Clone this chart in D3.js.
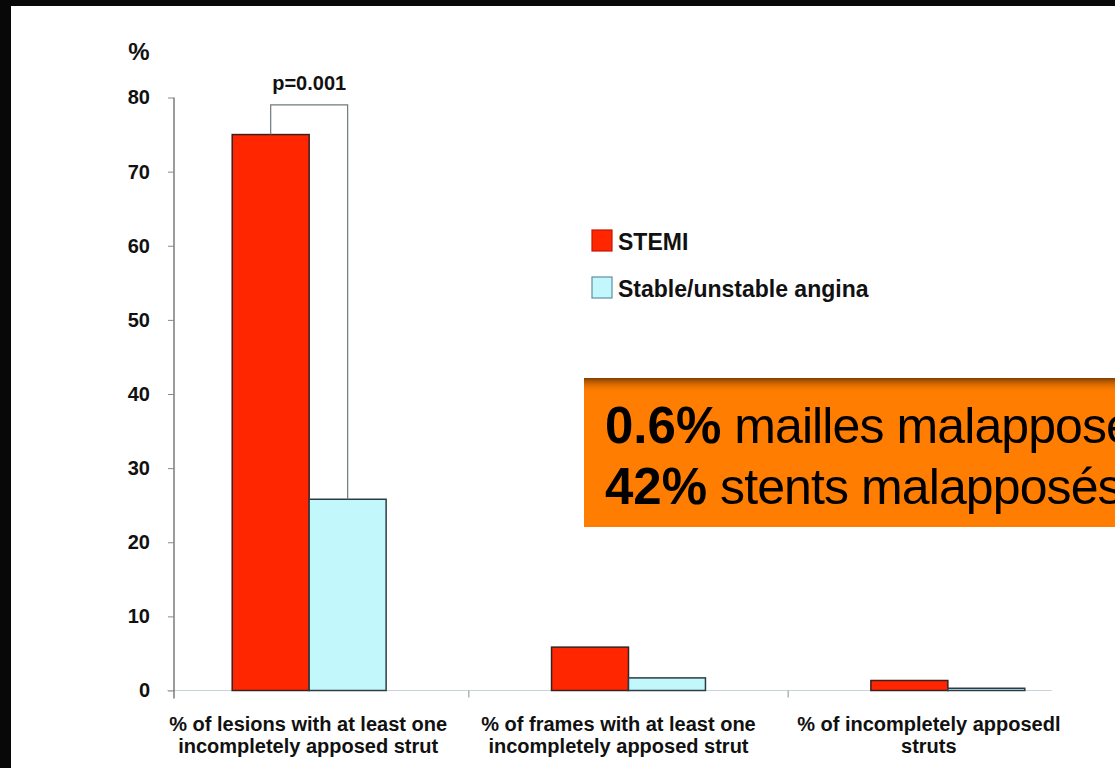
<!DOCTYPE html>
<html>
<head>
<meta charset="utf-8">
<script src="https://cdn.jsdelivr.net/npm/d3@7"></script>
<style>
  body { margin: 0; background: #fff; }
  svg text { font-family: "Liberation Sans", Arial, sans-serif; }
</style>
</head>
<body>
<div id="chart"></div>
<script>
// chart data
var categories = ["lesions", "frames", "struts"];
var categoryLabels = [
  ["% of lesions with at least one", "incompletely apposed strut"],
  ["% of frames with at least one", "incompletely apposed strut"],
  ["% of incompletely apposedl", "struts"]
];
var seriesNames = ["STEMI", "Stable/unstable angina"];
var stemiValues = [75, 5.85, 1.35];
var anginaValues = [25.8, 1.7, 0.3];
var yTickValues = [0, 10, 20, 30, 40, 50, 60, 70, 80];
var pValueText = "p=0.001";
var boxLines = [
  ["0.6%", " mailles malapposées"],
  ["42%", " stents malapposés"]
];

var W = 1115, H = 768;
var colors = { STEMI: "#ff2600", "Stable/unstable angina": "#c2f8fb" };
var strokes = { STEMI: "#3a2020", "Stable/unstable angina": "#2c3c44" };

var svg = d3.select("#chart").append("svg")
  .attr("width", W)
  .attr("height", H);

svg.append("rect").attr("width", W).attr("height", H).attr("fill", "#fff");
// black frame edges of the slide
svg.append("rect").attr("width", W).attr("height", 6).attr("fill", "#080808");
svg.append("rect").attr("width", 11).attr("height", H).attr("fill", "#080808");

// set the ranges
var y = d3.scaleLinear().domain([0, 80]).range([690.5, 97.5]);
var x0 = d3.scaleBand().domain(categories)
  .range([149.5, 1107.5])
  .paddingInner(0.518)
  .paddingOuter(0.259);
var x1 = d3.scaleBand().domain(seriesNames).range([0, x0.bandwidth()]);
var xLabel = d3.scaleBand().domain(categories).range([153, 1084]);

var axisLeftX = 174;
var halfGap = x0.paddingInner() * x0.step() / 2;
var axisEnd = x0(categories[categories.length - 1]) + x0.bandwidth() + 27;

// x axis baseline
svg.append("line")
  .attr("x1", axisLeftX - 7).attr("x2", axisEnd)
  .attr("y1", y(0)).attr("y2", y(0))
  .attr("stroke", "#c9d4d6").attr("stroke-width", 1.2);

// category separators
svg.selectAll(".sep")
  .data(categories.slice(1))
  .enter().append("line")
  .attr("class", "sep")
  .attr("x1", function (d) { return x0(d) - halfGap; })
  .attr("x2", function (d) { return x0(d) - halfGap; })
  .attr("y1", y(0)).attr("y2", y(0) + 7)
  .attr("stroke", "#9aa4a6").attr("stroke-width", 1.2);

// y axis
var yAxis = svg.append("g")
  .attr("transform", "translate(" + axisLeftX + ",0)")
  .call(d3.axisLeft(y).tickValues(yTickValues).tickSize(6).tickPadding(18).tickSizeOuter(0));
yAxis.select(".domain")
  .attr("d", "M0," + y(80) + "V" + (y(0) + 8))
  .attr("stroke", "#666").attr("stroke-width", 1.3);
yAxis.selectAll(".tick line").attr("stroke", "#888");
yAxis.selectAll(".tick text")
  .attr("fill", "#111")
  .style("font-size", "20px")
  .style("font-weight", "bold");

svg.append("text")
  .attr("x", 139).attr("y", 60)
  .attr("text-anchor", "middle")
  .style("font-size", "24px").style("font-weight", "bold")
  .attr("fill", "#111")
  .text("%");

// bars
var rows = categories.map(function (c, i) {
  return { cat: c, values: [
    { name: seriesNames[0], value: stemiValues[i] },
    { name: seriesNames[1], value: anginaValues[i] }
  ] };
});

var groups = svg.selectAll(".group")
  .data(rows)
  .enter().append("g")
  .attr("class", "group")
  .attr("transform", function (d) { return "translate(" + x0(d.cat) + ",0)"; });

groups.selectAll("rect")
  .data(function (d) { return d.values; })
  .enter().append("rect")
  .attr("x", function (d) { return x1(d.name); })
  .attr("y", function (d) { return y(d.value); })
  .attr("width", x1.bandwidth())
  .attr("height", function (d) { return y(0) - y(d.value); })
  .attr("fill", function (d) { return colors[d.name]; })
  .attr("stroke", function (d) { return strokes[d.name]; })
  .attr("stroke-width", 1.5);

// significance bracket on first group
var bx1 = x0(categories[0]) + x1(seriesNames[0]) + x1.bandwidth() / 2;
var bx2 = x0(categories[0]) + x1(seriesNames[1]) + x1.bandwidth() / 2;
svg.append("path")
  .attr("d", "M" + bx1 + "," + y(stemiValues[0]) + "V" + y(79) +
    "H" + bx2 + "V" + y(anginaValues[0]))
  .attr("fill", "none")
  .attr("stroke", "#6f7a7e")
  .attr("stroke-width", 1.2);
svg.append("text")
  .attr("x", (bx1 + bx2) / 2).attr("y", y(79) - 15)
  .attr("text-anchor", "middle")
  .style("font-size", "20px").style("font-weight", "bold")
  .attr("fill", "#111")
  .text(pValueText);

// category labels
var labels = svg.selectAll(".catlabel")
  .data(categories)
  .enter().append("text")
  .attr("class", "catlabel")
  .attr("text-anchor", "middle")
  .attr("fill", "#111")
  .style("font-size", "20px")
  .style("font-weight", "bold");
labels.selectAll("tspan")
  .data(function (d, i) { return categoryLabels[i]; })
  .enter().append("tspan")
  .attr("x", function () { var c = d3.select(this.parentNode).datum(); return xLabel(c) + xLabel.bandwidth() / 2; })
  .attr("y", function (d, i) { return 731 + i * 22; })
  .text(function (d) { return d; });

// legend
var legend = svg.selectAll(".legend")
  .data(seriesNames)
  .enter().append("g")
  .attr("class", "legend")
  .attr("transform", function (d, i) { return "translate(592," + (230 + i * 47) + ")"; });
legend.append("rect")
  .attr("width", 20).attr("height", 21)
  .attr("fill", function (d) { return colors[d]; })
  .attr("stroke", function (d, i) { return i ? "#5f8ea4" : "#c01800"; })
  .attr("stroke-width", 1.2);
legend.append("text")
  .attr("x", 26).attr("y", 20)
  .attr("fill", "#111")
  .style("font-size", "23px").style("font-weight", "bold")
  .text(function (d) { return d; });

// orange callout box
var defs = svg.append("defs");
var grad = defs.append("linearGradient").attr("id", "shade")
  .attr("x1", 0).attr("y1", 0).attr("x2", 0).attr("y2", 1);
grad.append("stop").attr("offset", "0%").attr("stop-color", "#7a3a00").attr("stop-opacity", 0.95);
grad.append("stop").attr("offset", "100%").attr("stop-color", "#ff7f00").attr("stop-opacity", 0);

svg.append("rect")
  .attr("x", 584).attr("y", 378).attr("width", 560).attr("height", 149)
  .attr("fill", "#ff7d00");
svg.append("rect")
  .attr("x", 584).attr("y", 378).attr("width", 560).attr("height", 15)
  .attr("fill", "url(#shade)");

var boxText = svg.selectAll(".boxline")
  .data(boxLines)
  .enter().append("text")
  .attr("class", "boxline")
  .attr("x", 605)
  .attr("y", function (d, i) { return 443 + i * 61; })
  .attr("fill", "#000")
  .style("font-size", "50px");
boxText.append("tspan").style("font-weight", "bold").style("font-size", "51px").text(function (d) { return d[0]; });
boxText.append("tspan").style("letter-spacing", "-0.9px").text(function (d) { return d[1]; });
</script>
</body>
</html>
